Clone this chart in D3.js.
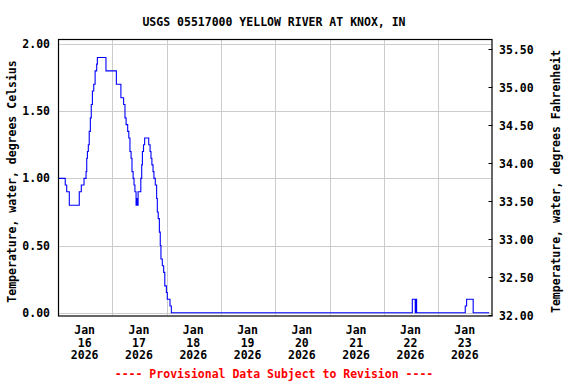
<!DOCTYPE html>
<html>
<head>
<meta charset="utf-8">
<script src="https://cdn.jsdelivr.net/npm/d3@7"></script>
<style>
  html, body { margin: 0; padding: 0; background: #fff; }
  svg text { font-family: "DejaVu Sans Mono", monospace; font-weight: bold; font-size: 11.5px; }
</style>
</head>
<body>
<svg id="chart" width="576" height="384"></svg>
<script>
// ---- data ----
const titleText = "USGS 05517000 YELLOW RIVER AT KNOX, IN";
const leftLabel = "Temperature, water, degrees Celsius";
const rightLabel = "Temperature, water, degrees Fahrenheit";
const footerText = "---- Provisional Data Subject to Revision ----";
// hours since 2026-01-16 00:00 at which each reading level starts
const hours = [0, 3.2, 3.85, 5.0, 9.4, 10.3, 11.5, 12.4, 12.7, 13.0, 13.4, 13.8, 14.3, 14.7, 15.2, 15.8, 16.4, 17.1, 17.4,
  21.2, 25.8, 27.8, 29.0, 29.6, 30.1, 30.8, 31.3, 31.8, 32.3, 32.7, 33.2, 33.6, 34.0, 34.5, 34.8, 34.9, 35.4,
  36.6, 37.0, 37.3, 37.8, 38.3, 40.1, 40.7, 41.1, 41.5, 42.0, 42.4, 43.0, 43.6, 43.9, 44.3, 44.8, 45.2, 45.5,
  46.1, 46.7, 47.2, 47.9, 48.3, 49.5, 50.1, 156.6, 157.9, 158.1, 158.5, 180.0, 180.6, 183.5, 190.6];
const tempC = [1.0, 0.95, 0.9, 0.8, 0.9, 0.95, 1.0, 1.05, 1.15, 1.2, 1.25, 1.35, 1.45, 1.55, 1.65, 1.7, 1.8, 1.85, 1.9,
  1.8, 1.7, 1.6, 1.55, 1.45, 1.4, 1.35, 1.3, 1.2, 1.15, 1.05, 1.0, 0.95, 0.9, 0.8, 0.85, 0.8, 0.9,
  1.0, 1.1, 1.2, 1.25, 1.3, 1.25, 1.2, 1.15, 1.1, 1.05, 1.0, 0.95, 0.85, 0.75, 0.7, 0.6, 0.5, 0.4,
  0.35, 0.3, 0.2, 0.15, 0.1, 0.05, 0.0, 0.1, 0.0, 0.1, 0.0, 0.05, 0.1, 0.0, 0.0];
const leftTicks = [0, 0.5, 1.0, 1.5, 2.0];
const rightTicksF = [32.0, 32.5, 33.0, 33.5, 34.0, 34.5, 35.0, 35.5];
const dayLabels = ["16", "17", "18", "19", "20", "21", "22", "23"];
const monthLabel = "Jan";
const yearLabel = "2026";

// ---- layout ----
const svg = d3.select("#chart");
const frame = { left: 58, right: 491.5, top: 39, bottom: 315.5 };
const t0 = Date.UTC(2026, 0, 16);
const hr = 3600 * 1000;
const x = d3.scaleUtc().domain([new Date(t0), new Date(t0 + 8 * 24 * hr)]).range([58, 492.4]);
const y = d3.scaleLinear().domain([0, 2]).range([312.7, 44]);
const yF = d3.scaleLinear().domain([32, 35.5]).range([315, 48.6]);

const data = hours.map((h, i) => ({ t: new Date(t0 + h * hr), v: tempC[i] }));

// gridlines
const g = svg.append("g");
g.selectAll("line.hg").data(leftTicks).enter().append("line")
  .attr("x1", frame.left).attr("x2", frame.right)
  .attr("y1", d => Math.round(y(d)) + 0.5).attr("y2", d => Math.round(y(d)) + 0.5)
  .attr("stroke", "#cccccc").attr("stroke-width", 1);
const midnights = d3.range(1, 8).map(d => new Date(t0 + d * 24 * hr));
g.selectAll("line.vg").data(midnights).enter().append("line")
  .attr("x1", d => Math.round(x(d)) + 0.5).attr("x2", d => Math.round(x(d)) + 0.5)
  .attr("y1", frame.top).attr("y2", frame.bottom)
  .attr("stroke", "#cccccc").attr("stroke-width", 1);

// data line
const line = d3.line().x(d => x(d.t)).y(d => y(d.v)).curve(d3.curveStepAfter);
svg.append("path").datum(data)
  .attr("d", line)
  .attr("fill", "none").attr("stroke", "#0000ff").attr("stroke-width", 1.1);

// frame
svg.append("rect")
  .attr("x", frame.left + 0.5).attr("y", frame.top + 0.5)
  .attr("width", frame.right - frame.left).attr("height", frame.bottom - frame.top)
  .attr("fill", "none").attr("stroke", "#000").attr("stroke-width", 1.2);

// left axis labels
svg.selectAll("text.yl").data(leftTicks).enter().append("text")
  .attr("x", 50).attr("y", d => y(d) + 4)
  .attr("text-anchor", "end").text(d => d3.format(".2f")(d));

// right axis ticks + labels
svg.selectAll("line.rt").data(rightTicksF).enter().append("line")
  .attr("x1", frame.right - 3).attr("x2", frame.right + 1)
  .attr("y1", d => Math.round(yF(d)) + 0.5).attr("y2", d => Math.round(yF(d)) + 0.5)
  .attr("stroke", "#000").attr("stroke-width", 1);
svg.selectAll("text.yr").data(rightTicksF).enter().append("text")
  .attr("x", 499).attr("y", d => yF(d) + 5)
  .attr("text-anchor", "start").text(d => d3.format(".2f")(d));

// x axis labels at noon
const noons = dayLabels.map((d, i) => ({ t: new Date(t0 + (i * 24 + 12) * hr), day: d }));
const xl = svg.selectAll("g.xl").data(noons).enter().append("g")
  .attr("transform", d => `translate(${x(d.t) - 0.5},0)`);
xl.append("text").attr("y", 334).attr("text-anchor", "middle").text(monthLabel);
xl.append("text").attr("y", 346.7).attr("text-anchor", "middle").text(d => d.day);
xl.append("text").attr("y", 359.3).attr("text-anchor", "middle").text(yearLabel);

// title
svg.append("text").attr("x", 274).attr("y", 26).attr("text-anchor", "middle").text(titleText);

// axis titles
svg.append("text").attr("transform", "translate(16,181.5) rotate(-90)")
  .attr("text-anchor", "middle").text(leftLabel);
svg.append("text").attr("transform", "translate(560,181.5) rotate(-90)")
  .attr("text-anchor", "middle").text(rightLabel);

// footer
svg.append("text").attr("x", 274).attr("y", 378).attr("text-anchor", "middle")
  .attr("fill", "#ff0000").text(footerText);
</script>
</body>
</html>
